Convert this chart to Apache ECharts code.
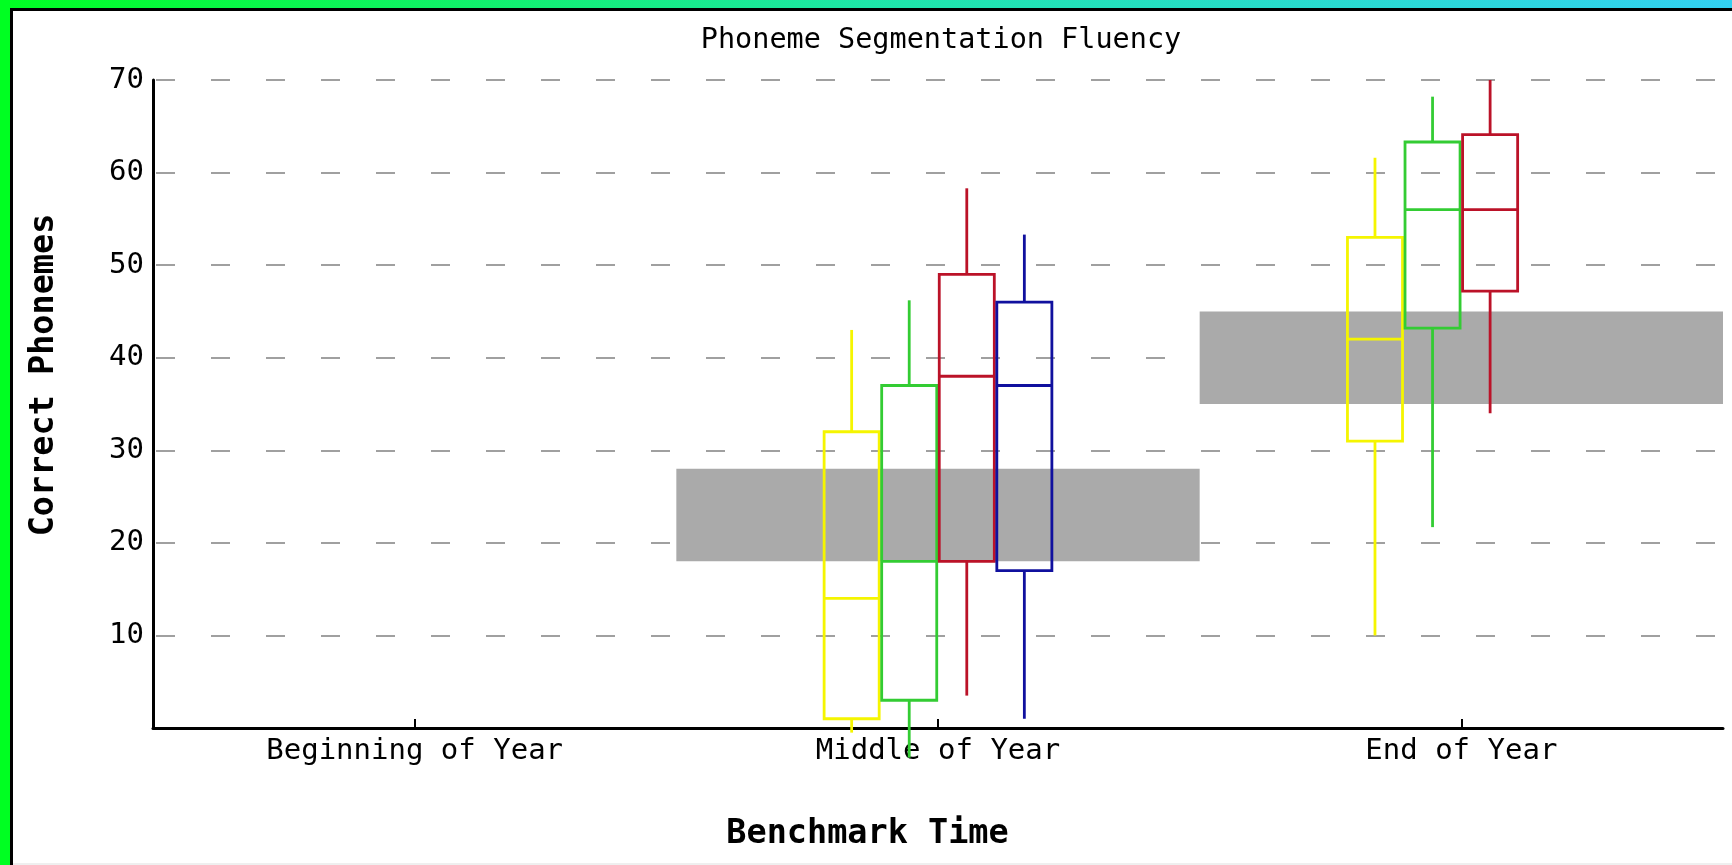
<!DOCTYPE html>
<html>
<head>
<meta charset="utf-8">
<script src="https://cdn.jsdelivr.net/npm/echarts/dist/echarts.min.js"></script>
<style>
html,body{margin:0;padding:0;background:#ffffff;}
#chart{width:1732px;height:865px;}
</style>
</head>
<body>
<div id="chart"></div>
<script>
// ---- data ----
const categories = ['Beginning of Year', 'Middle of Year', 'End of Year'];
const yTicks = [10, 20, 30, 40, 50, 60, 70];
// [min, Q1, median, Q3, max] per category; null = no data
const yellowBoxes = [null, [-0.5, 1, 14, 32, 43], [10, 31, 42, 53, 61.6]];
const greenBoxes  = [null, [-3.2, 3, 18, 37, 46.2], [21.7, 43.2, 56, 63.3, 68.2]];
const redBoxes    = [null, [3.5, 18, 38, 49, 58.3], [34, 47.2, 56, 64.1, 70]];
const blueBoxes   = [null, [1, 17, 37, 46, 53.3], null];
const benchmarkLow  = [null, 18, 35];
const benchmarkHigh = [null, 28, 45];

// ---- styling ----
const FONT = 'DejaVu Sans Mono';
const SLOT_STEP = 0.110;   // box spacing as fraction of band width
const BOX_HALF = 0.0526;   // half box width as fraction of band width
const LW = 2.8;

function makeBoxSeries(name, boxes, color, slot) {
  const data = [];
  boxes.forEach(function (b, i) { if (b) data.push([i].concat(b)); });
  return {
    type: 'custom',
    name: name,
    z: 5,
    clip: false,
    data: data,
    encode: { x: 0, y: [1, 2, 3, 4, 5] },
    renderItem: function (params, api) {
      const ci = api.value(0);
      const bw = api.size([1, 0])[0];
      const cx = api.coord([ci, 0])[0] + slot * SLOT_STEP * bw;
      const half = BOX_HALF * bw;
      const yMin = api.coord([ci, api.value(1)])[1];
      const yQ1 = api.coord([ci, api.value(2)])[1];
      const yMed = api.coord([ci, api.value(3)])[1];
      const yQ3 = api.coord([ci, api.value(4)])[1];
      const yMax = api.coord([ci, api.value(5)])[1];
      const ls = { stroke: color, lineWidth: LW, fill: null };
      return {
        type: 'group',
        children: [
          { type: 'line', shape: { x1: cx, y1: yMax, x2: cx, y2: yQ3 }, style: ls },
          { type: 'line', shape: { x1: cx, y1: yQ1, x2: cx, y2: yMin }, style: ls },
          { type: 'rect', shape: { x: cx - half, y: yQ3, width: 2 * half, height: yQ1 - yQ3 }, style: { stroke: color, lineWidth: LW, fill: 'none' } },
          { type: 'line', shape: { x1: cx - half, y1: yMed, x2: cx + half, y2: yMed }, style: ls }
        ]
      };
    }
  };
}

const chart = echarts.init(document.getElementById('chart'), null, { renderer: 'canvas' });

const option = {
  backgroundColor: '#ffffff',
  animation: false,
  title: {
    text: 'Phoneme Segmentation Fluency',
    left: 941,
    textAlign: 'center',
    top: 26,
    padding: 0,
    textStyle: { fontFamily: FONT, fontSize: 28.5, fontWeight: 'normal', color: '#000' }
  },
  grid: { left: 153, right: 9, top: 80, bottom: 137, containLabel: false },
  xAxis: {
    type: 'category',
    data: categories,
    boundaryGap: true,
    axisLine: { show: true, lineStyle: { color: '#000', width: 3 } },
    axisTick: { show: true, inside: true, length: 9, alignWithLabel: true, lineStyle: { color: '#000', width: 2 } },
    axisLabel: { margin: 9, fontFamily: FONT, fontSize: 29, color: '#000' },
    splitLine: { show: false },
    name: 'Benchmark Time',
    nameLocation: 'middle',
    nameGap: 89,
    nameTextStyle: { fontFamily: FONT, fontSize: 33.5, fontWeight: 'bold', color: '#000', padding: [0, 141, 0, 0] }
  },
  yAxis: {
    type: 'value',
    min: 0,
    max: 70,
    interval: 10,
    axisLine: { show: true, lineStyle: { color: '#000', width: 3 } },
    axisTick: { show: false },
    axisLabel: {
      margin: 9, fontFamily: FONT, fontSize: 29, color: '#000',
      formatter: function (v) { return yTicks.indexOf(v) >= 0 ? String(v) : ''; }
    },
    splitLine: { show: true, lineStyle: { color: '#a0a0a0', width: 2, type: [19, 36], dashOffset: 52 } },
    name: 'Correct Phonemes',
    nameLocation: 'middle',
    nameRotate: 90,
    nameGap: 92,
    nameTextStyle: { fontFamily: FONT, fontSize: 33.5, fontWeight: 'bold', color: '#000', padding: [0, 0, 0, 58] }
  },
  series: [
    {
      type: 'bar', stack: 'bench', barWidth: '100%', silent: true, z: 1,
      itemStyle: { color: 'rgba(0,0,0,0)' },
      data: benchmarkLow.map(function (v) { return v == null ? '-' : v; })
    },
    {
      type: 'bar', stack: 'bench', barWidth: '100%', silent: true, z: 1,
      itemStyle: { color: '#aaaaaa' },
      data: benchmarkHigh.map(function (v, i) { return v == null ? '-' : v - benchmarkLow[i]; })
    },
    makeBoxSeries('Yellow', yellowBoxes, '#f5f500', -1.5),
    makeBoxSeries('Green', greenBoxes, '#33cc33', -0.5),
    makeBoxSeries('Red', redBoxes, '#bb1228', 0.5),
    makeBoxSeries('Blue', blueBoxes, '#10109e', 1.5)
  ],
  graphic: [
    { type: 'rect', left: 0, top: 0, z: 100, shape: { width: 1732, height: 8 },
      style: { fill: new echarts.graphic.LinearGradient(0, 0, 1, 0, [
        { offset: 0, color: '#00ff22' }, { offset: 0.5, color: '#1ee6a8' }, { offset: 1, color: '#33d0f2' }]) } },
    { type: 'rect', left: 0, top: 8, z: 100, shape: { width: 1732, height: 3 }, style: { fill: '#000' } },
    { type: 'rect', left: 0, top: 0, z: 101, shape: { width: 10, height: 865 }, style: { fill: '#00ff22' } },
    { type: 'rect', left: 10, top: 8, z: 101, shape: { width: 3, height: 857 }, style: { fill: '#000' } },
    { type: 'rect', left: 13, top: 863, z: 100, shape: { width: 1719, height: 2 }, style: { fill: '#efefef' } }
  ]
};

chart.setOption(option);
</script>
</body>
</html>
